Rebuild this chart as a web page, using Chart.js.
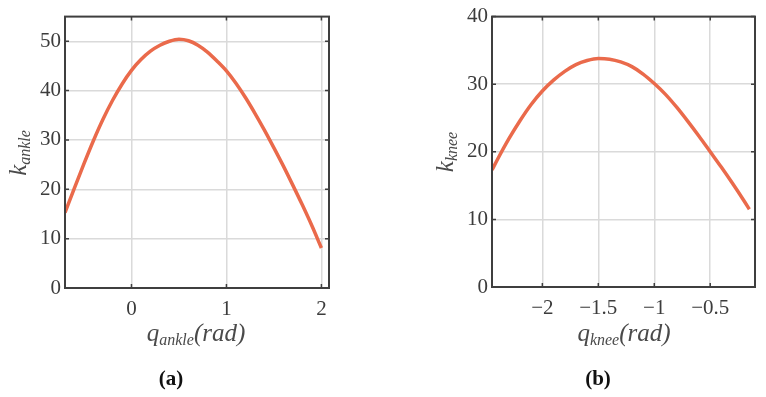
<!DOCTYPE html>
<html>
<head>
<meta charset="utf-8">
<script src="https://cdn.jsdelivr.net/npm/chart.js@4"></script>
<style>
  body { margin: 0; background: #fff; }
  #wrap { position: relative; width: 766px; height: 397px; }
  .panel { position: absolute; top: 0; width: 383px; height: 397px; }
</style>
</head>
<body>
<div id="wrap">
  <div class="panel" style="left:0"><canvas id="chartAnkle" width="383" height="397"></canvas></div>
  <div class="panel" style="left:383px"><canvas id="chartKnee" width="383" height="397"></canvas></div>
</div>
<script>
// ankle panel (a)
let qAnkle = [-0.7, -0.6, -0.5, -0.4, -0.3, -0.2, -0.1, 0, 0.1, 0.2, 0.3, 0.4, 0.5, 0.6,
    0.7, 0.8, 0.9, 1.0, 1.1, 1.2, 1.3, 1.4, 1.5, 1.6, 1.7, 1.8, 1.9, 2.0];
let kAnkle = [15.3, 20.3, 25.2, 29.9, 34.2, 38.0, 41.3, 44.1, 46.3, 48.0, 49.2, 50.0, 50.4, 50.1,
    49.2, 47.8, 46.0, 44.0, 41.5, 38.6, 35.4, 32.0, 28.4, 24.7, 20.8, 16.8, 12.6, 8.1];
let ankleXTicks = [0, 1, 2];
let ankleYTicks = [0, 10, 20, 30, 40, 50];

// knee panel (b)
let qKnee = [-2.45, -2.4, -2.3, -2.2, -2.1, -2.0, -1.9, -1.8, -1.7, -1.6, -1.5, -1.4, -1.3,
    -1.2, -1.1, -1.0, -0.9, -0.8, -0.7, -0.6, -0.5, -0.4, -0.3, -0.2, -0.15];
let kKnee = [17.3, 18.9, 21.9, 24.6, 27.0, 29.0, 30.6, 31.9, 32.9, 33.5, 33.8, 33.7, 33.3,
    32.6, 31.5, 30.1, 28.5, 26.6, 24.5, 22.3, 20.0, 17.7, 15.3, 12.8, 11.5];
let kneeXTicks = [-2, -1.5, -1, -0.5];
let kneeYTicks = [0, 10, 20, 30, 40];

const lineColor = '#EA6A4B';
const serif = "'Liberation Serif', 'DejaVu Serif', serif";

function minus(v) {
    return String(v).replace('-', '\u2212');
}

// text pieces: [text, size, baseline shift]
function drawPieces(ctx, pieces, cx, cy) {
    let total = 0;
    pieces.forEach(p => {
        ctx.font = 'italic ' + p[1] + 'px ' + serif;
        total += ctx.measureText(p[0]).width;
    });
    let x = cx - total / 2;
    ctx.textAlign = 'left';
    ctx.textBaseline = 'alphabetic';
    pieces.forEach(p => {
        ctx.font = 'italic ' + p[1] + 'px ' + serif;
        ctx.fillText(p[0], x, cy + p[2]);
        x += ctx.measureText(p[0]).width;
    });
}

// MATLAB style box, inward ticks and labels
const boxPlugin = {
    id: 'box',
    afterDraw(chart, args, opts) {
        const ctx = chart.ctx;
        const a = chart.chartArea;
        const xs = chart.scales.x, ys = chart.scales.y;
        ctx.save();
        ctx.strokeStyle = '#3f3f3f';
        ctx.lineWidth = 1.5;
        ctx.beginPath();
        xs.ticks.forEach(t => {
            const px = xs.getPixelForValue(t.value);
            ctx.moveTo(px, a.bottom); ctx.lineTo(px, a.bottom - 4);
            ctx.moveTo(px, a.top); ctx.lineTo(px, a.top + 4);
        });
        ys.ticks.forEach(t => {
            const py = ys.getPixelForValue(t.value);
            ctx.moveTo(a.left, py); ctx.lineTo(a.left + 4, py);
            ctx.moveTo(a.right, py); ctx.lineTo(a.right - 4, py);
        });
        ctx.stroke();
        ctx.lineWidth = 2;
        ctx.strokeRect(a.left, a.top, a.right - a.left, a.bottom - a.top);

        ctx.fillStyle = '#4a4a4a';
        drawPieces(ctx, [['q', 25, 0], [opts.sub, 16, 4], ['(rad)', 25, 0]], opts.xTitleX, 341);
        ctx.save();
        ctx.translate(opts.yTitleX, opts.yTitleY);
        ctx.rotate(-Math.PI / 2);
        drawPieces(ctx, [['k', 25, 0], [opts.sub, 16, 4]], 0, 0);
        ctx.restore();

        ctx.fillStyle = '#111';
        ctx.textAlign = 'center';
        ctx.textBaseline = 'middle';
        ctx.font = 'bold 21px ' + serif;
        ctx.fillText('(' + opts.tag + ')', opts.tagX, 380);
        ctx.restore();
    }
};

function makeChart(id, xs, ys, xTicks, yTicks, range, box, opts) {
    const points = xs.map((v, i) => ({ x: v, y: ys[i] }));
    return new Chart(document.getElementById(id), {
        type: 'line',
        data: {
            datasets: [{
                data: points,
                borderColor: lineColor,
                borderWidth: 3.5,
                pointRadius: 0,
                cubicInterpolationMode: 'monotone',
                fill: false
            }]
        },
        plugins: [boxPlugin],
        options: {
            responsive: false,
            animation: false,
            layout: { padding: box.padding },
            plugins: {
                legend: { display: false },
                tooltip: { enabled: false },
                box: opts
            },
            scales: {
                x: {
                    type: 'linear',
                    min: range.xMin,
                    max: range.xMax,
                    afterBuildTicks: s => { s.ticks = xTicks.map(v => ({ value: v })); },
                    afterFit: s => { s.height = box.xHeight; },
                    grid: { color: '#dadada', lineWidth: 1.5, drawTicks: false },
                    border: { display: false },
                    ticks: {
                        padding: 9,
                        color: '#3c3c3c',
                        font: { family: serif, size: 21 },
                        callback: v => minus(v)
                    }
                },
                y: {
                    min: range.yMin,
                    max: range.yMax,
                    afterBuildTicks: s => { s.ticks = yTicks.map(v => ({ value: v })); },
                    afterFit: s => { s.width = box.yWidth; },
                    grid: { color: '#dadada', lineWidth: 1.5, drawTicks: false },
                    border: { display: false },
                    ticks: {
                        padding: 4,
                        color: '#3c3c3c',
                        font: { family: serif, size: 21 },
                        callback: v => minus(v)
                    }
                }
            }
        }
    });
}

makeChart('chartAnkle', qAnkle, kAnkle, ankleXTicks, ankleYTicks,
    { xMin: -0.7, xMax: 2.08, yMin: 0, yMax: 55 },
    { padding: { left: 0, right: 54, top: 15, bottom: 0 }, xHeight: 109, yWidth: 65 },
    { sub: 'ankle', tag: 'a', xTitleX: 196, yTitleX: 26, yTitleY: 153, tagX: 171 });

makeChart('chartKnee', qKnee, kKnee, kneeXTicks, kneeYTicks,
    { xMin: -2.45, xMax: -0.1, yMin: 0, yMax: 40 },
    { padding: { left: 0, right: 11, top: 13, bottom: 0 }, xHeight: 110, yWidth: 109 },
    { sub: 'knee', tag: 'b', xTitleX: 241, yTitleX: 70, yTitleY: 152, tagX: 215 });
</script>
</body>
</html>
